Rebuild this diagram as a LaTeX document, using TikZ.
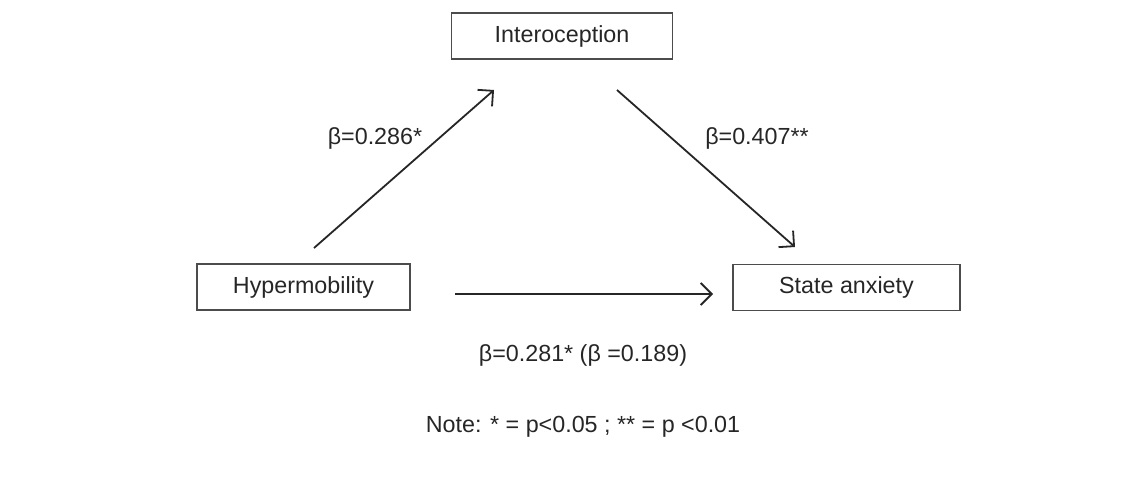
\documentclass[tikz,border=0pt]{standalone}
\usepackage{fontspec}
\setmainfont{Liberation Sans}
\usetikzlibrary{arrows.meta}
\begin{document}
\begin{tikzpicture}[x=1pt,y=-1pt,
  box/.style={draw=black!70,line width=1.8pt,minimum height=46pt,inner sep=0pt,font=\fontsize{23.3}{27}\selectfont,text=black!85},
  conn/.style={line width=1.8pt,black!85,-{Straight Barb[length=11pt,width=22pt,line width=1.8pt]}},
  lbl/.style={font=\fontsize{23.3}{27}\selectfont,text=black!85}]
\useasboundingbox (0,0) rectangle (1138,484);
\node[box,minimum width=221pt] (int) at (562,36) {Interoception};
\node[box,minimum width=213pt] (hyp) at (303.5,287) {Hypermobility};
\node[box,minimum width=227pt] (sta) at (846.5,287.5) {State anxiety};
\coordinate (a1s) at (314,248);
\coordinate (a1e) at (494,90);
\coordinate (a2s) at (617,90);
\coordinate (a2e) at (795,247);
\coordinate (a3s) at (455,294);
\coordinate (a3e) at (713,294);
\draw[conn] (a1s) -- (a1e);
\draw[conn] (a2s) -- (a2e);
\draw[conn] (a3s) -- (a3e);
\node[lbl] (l1) at (375,138) {β=0.286*};
\node[lbl] (l2) at (757,138) {β=0.407**};
\node[lbl] (l3) at (583,355) {β=0.281* (β =0.189)};
\node[lbl] (note) at (583,427) {Note: * = p<0.05 ; ** = p <0.01};
\end{tikzpicture}
\end{document}
